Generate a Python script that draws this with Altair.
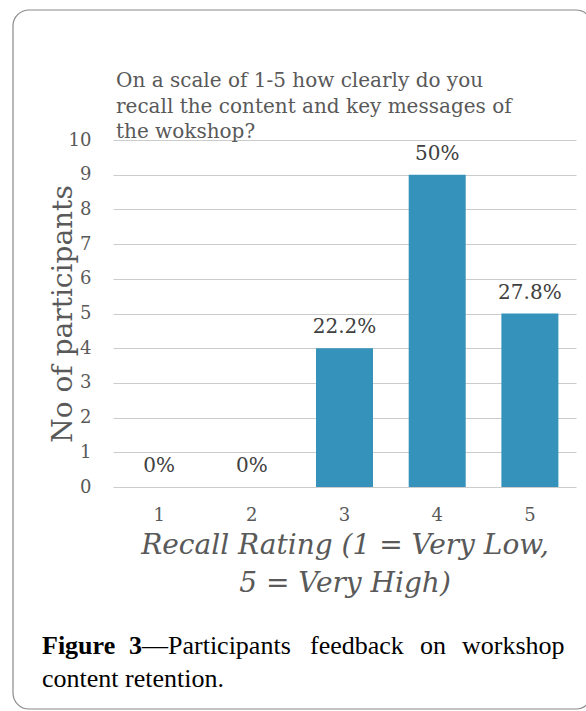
import altair as alt
import pandas as pd

RATINGS = ["1", "2", "3", "4", "5"]
COUNTS = [0, 0, 4, 9, 5]
PCT_LABELS = ["0%", "0%", "22.2%", "50%", "27.8%"]
Y_TICKS = [0, 1, 2, 3, 4, 5, 6, 7, 8, 9, 10]
TITLE_LINES = ["On a scale of 1-5 how clearly do you",
               "recall the content and key messages of",
               "the wokshop?"]
X_TITLE = ["Recall Rating (1 = Very Low,", "5 = Very High)"]
Y_TITLE = "No of participants"
CAPTION_BOLD = ["Figure", "3"]
CAPTION_WORDS = ["\u2014Participants", "feedback", "on", "workshop"]
CAPTION_LINE2 = "content retention."

df = pd.DataFrame({"rating": RATINGS, "count": COUNTS, "label": PCT_LABELS})
one = pd.DataFrame({"k": [0]})

W, H = 463, 347
LEFT, TOP = 113, 140
FONT = "DejaVu Serif"
GRAY = "#595959"
BAR = "#3593BB"

x = alt.X(
    "rating:N", sort=RATINGS,
    scale=alt.Scale(paddingInner=0.385, paddingOuter=0.19),
    axis=alt.Axis(
        title=X_TITLE, labelAngle=0, labelFont=FONT, labelFontSize=18,
        labelColor=GRAY, labelPadding=19, ticks=False, domain=False,
        titleFont=FONT, titleFontStyle="italic", titleFontSize=28,
        titleFontWeight="normal", titleColor=GRAY, titlePadding=7,
        titleLineHeight=38,
    ),
)
y = alt.Y(
    "count:Q",
    scale=alt.Scale(domain=[0, 10], nice=False),
    axis=alt.Axis(
        title=Y_TITLE, values=Y_TICKS, labelFont=FONT, labelFontSize=18,
        labelColor=GRAY, labelPadding=22, ticks=False, domain=False,
        gridColor="#CCCCCC", gridWidth=1.2,
        titleFont=FONT, titleFontSize=28, titleFontWeight="normal",
        titleColor=GRAY, titleAngle=270, titleX=-50, titleY=H / 2,
        titleAlign="center", titleBaseline="middle",
    ),
)

bars = alt.Chart(df).mark_bar(color=BAR).encode(x=x, y=y)
labels = alt.Chart(df).mark_text(
    font=FONT, fontSize=20, color="#404040", baseline="alphabetic", dy=-15
).encode(x=x, y=y, text="label:N")

frame = alt.Chart(one).mark_rect(
    fillOpacity=0, stroke="#8a8a8a", strokeWidth=1.2, cornerRadius=16
).encode(
    x=alt.value(13 - LEFT), x2=alt.value(592 - LEFT),
    y=alt.value(10 - TOP), y2=alt.value(709 - TOP),
)

title = alt.Chart(one).mark_text(
    font=FONT, fontSize=20, color=GRAY, align="left", baseline="alphabetic",
    lineHeight=25.5,
).encode(x=alt.value(116 - LEFT), y=alt.value(87 - TOP), text=alt.value(TITLE_LINES))

cap_font = "Liberation Serif"
CAP_SIZE = 26


def cap_text(txt, px, py, bold=False):
    d = pd.DataFrame({"t": [txt]})
    return alt.Chart(d).mark_text(
        font=cap_font, fontSize=CAP_SIZE, fontWeight="bold" if bold else "normal",
        color="black", align="left", baseline="alphabetic",
    ).encode(x=alt.value(px - LEFT), y=alt.value(py - TOP), text="t:N")


layers = [frame, bars, labels, title]
for w, wx in zip(CAPTION_BOLD, [42, 129]):
    layers.append(cap_text(w, wx, 654, bold=True))
for w, wx in zip(CAPTION_WORDS, [142, 310, 420, 462]):
    layers.append(cap_text(w, wx, 654))
layers.append(cap_text(CAPTION_LINE2, 42, 687))

chart = alt.layer(*layers).properties(
    width=W, height=H,
    autosize=alt.AutoSizeParams(type="none"),
    padding={"left": LEFT, "top": TOP, "right": 586 - LEFT - W, "bottom": 711 - TOP - H},
).configure_view(stroke=None)

chart.save("out.html", embed_options={"renderer": "svg", "actions": False})
